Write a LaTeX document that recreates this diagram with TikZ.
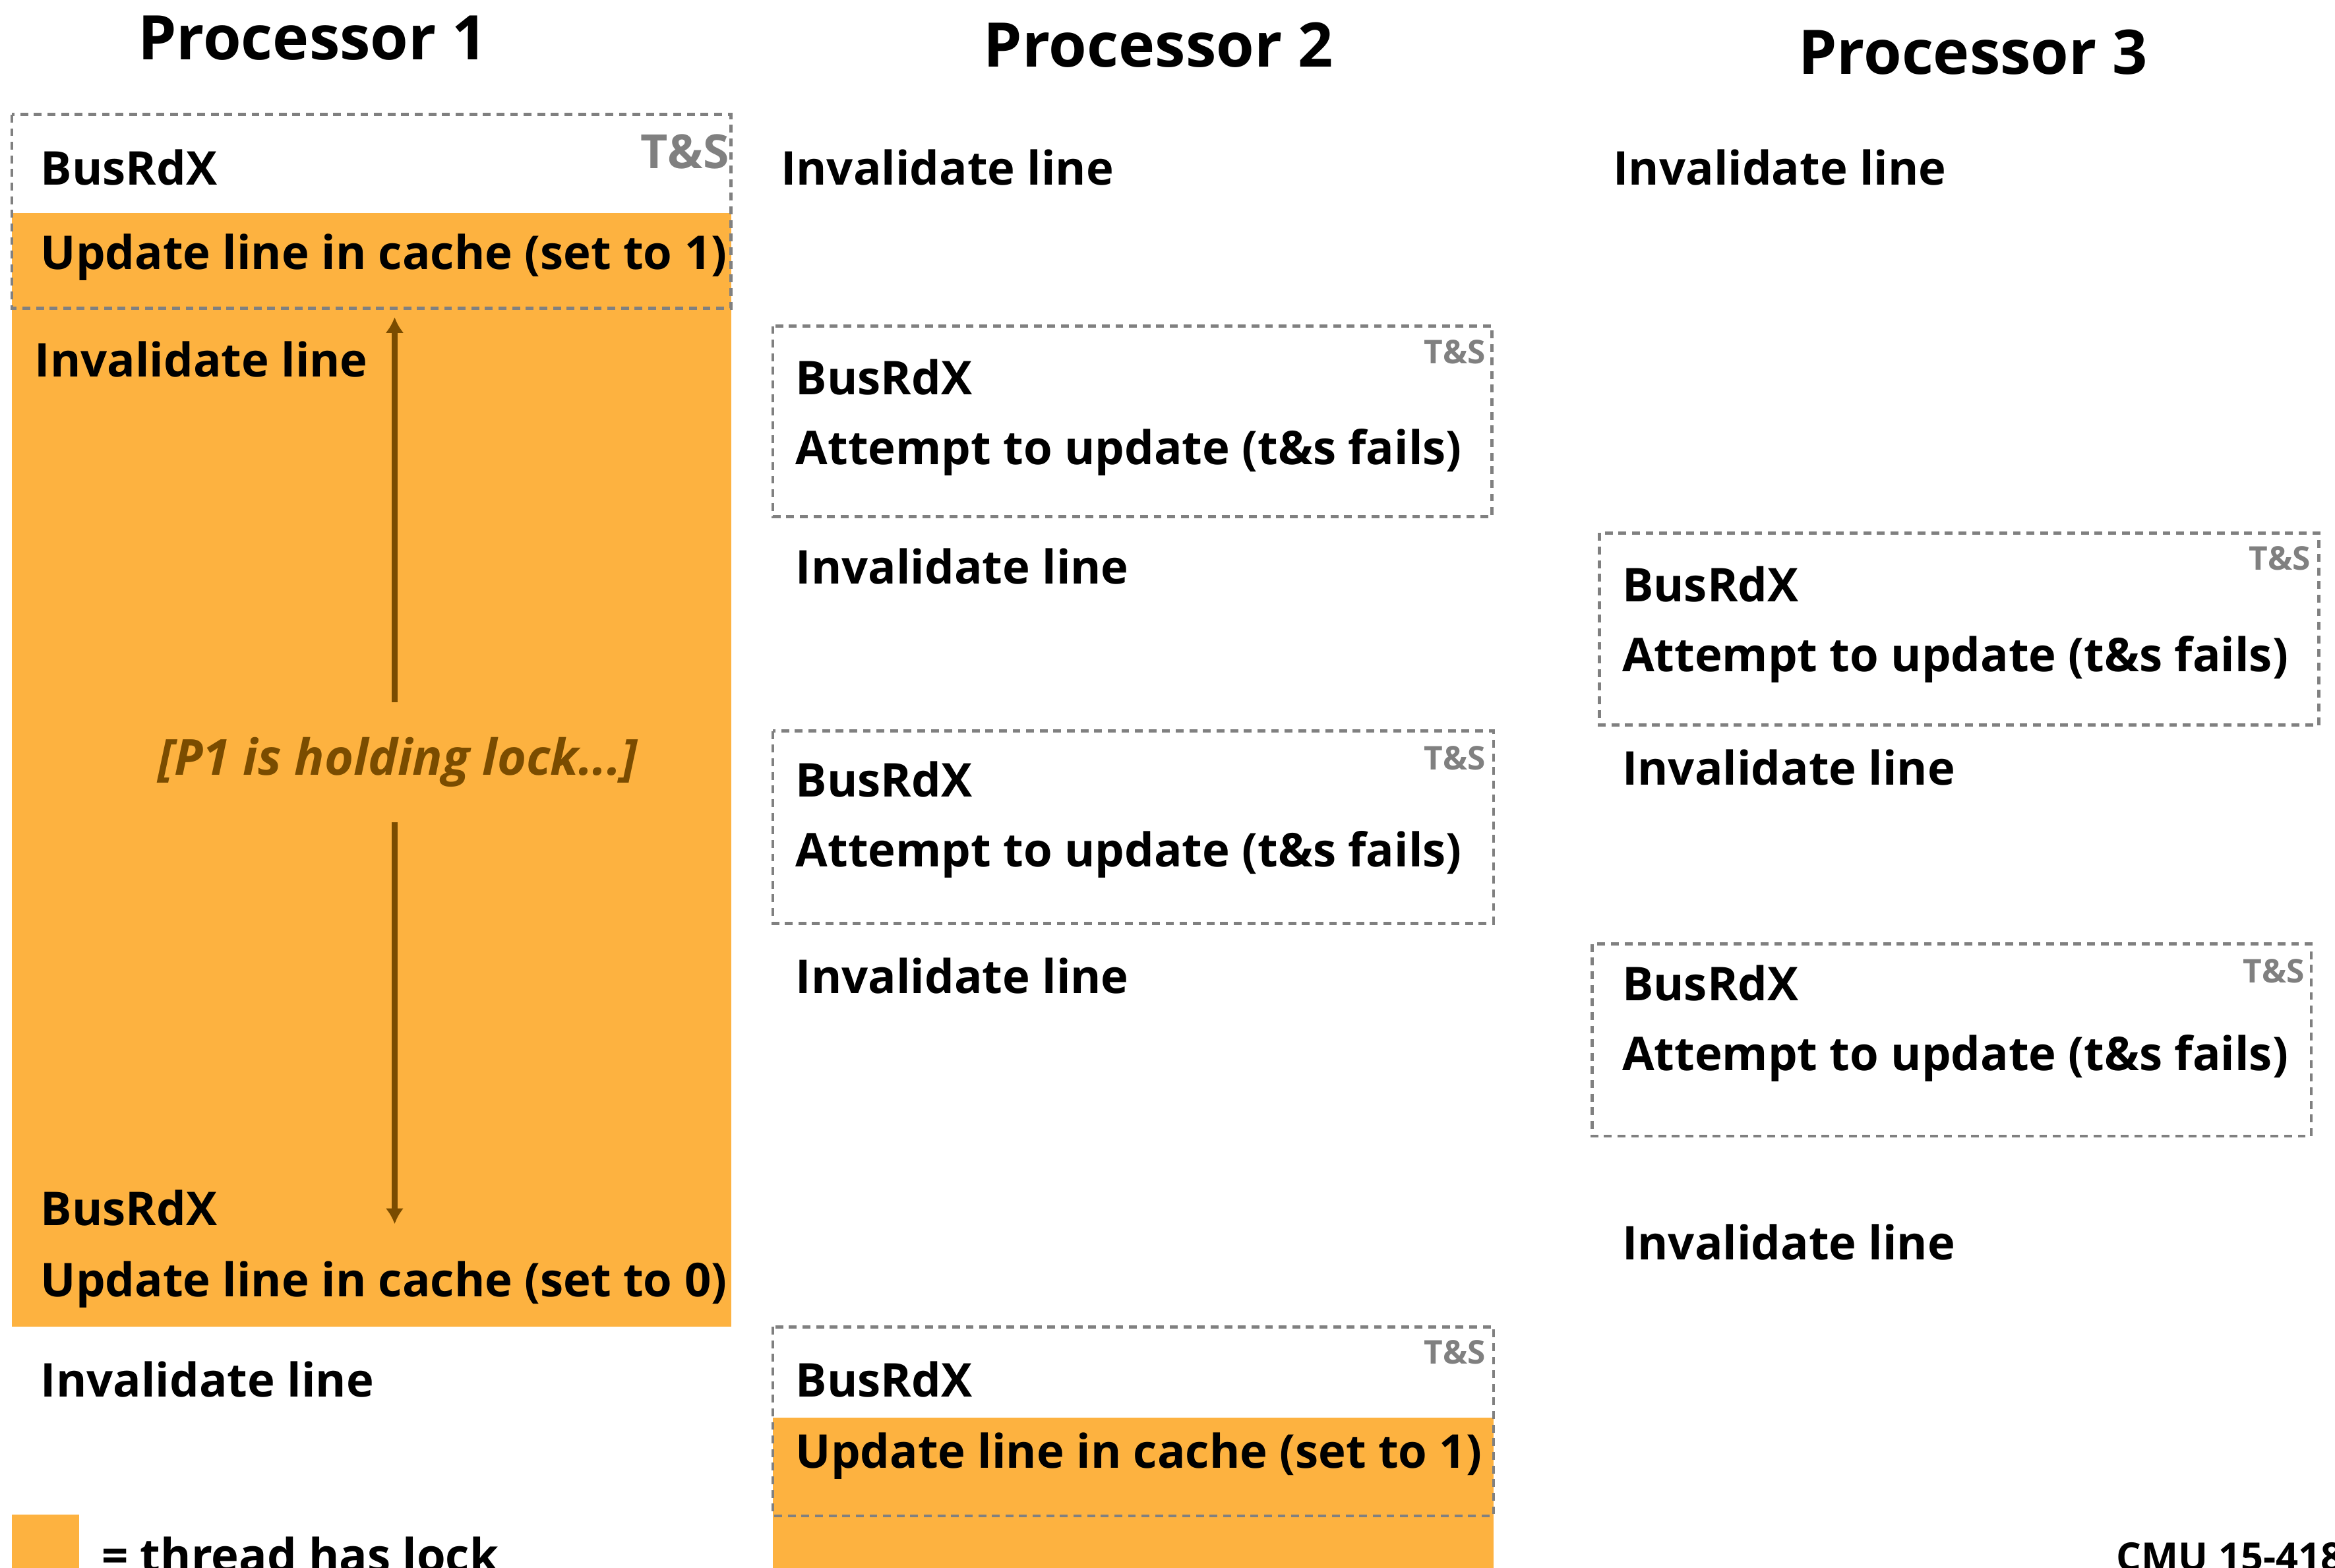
\documentclass[tikz,border=0pt]{standalone}
\usepackage{fontspec}
\setmainfont{Open Sans}
\usetikzlibrary{positioning,arrows.meta}

\definecolor{lockorange}{RGB}{253,178,64}
\definecolor{lockbrown}{RGB}{122,76,0}
\definecolor{tsgray}{RGB}{128,128,128}

\begin{document}
\begin{tikzpicture}[x=0.02cm, y=-0.02cm, >={Latex[length=6pt,width=7pt]},
  txt/.style={anchor=base west, inner sep=0pt, font=\bfseries\fontsize{17.8}{20}\selectfont},
  proc/.style={anchor=base, inner sep=0pt, font=\bfseries\fontsize{23.5}{28}\selectfont},
  tslbl/.style={anchor=base east, inner sep=0pt, text=tsgray, font=\bfseries\fontsize{12.5}{14}\selectfont},
  tsbox/.style={draw=tsgray, line width=1.2pt, dash pattern=on 3pt off 2.2pt},
  lockfill/.style={fill=lockorange, draw=none},
  holdarrow/.style={->, draw=lockbrown, line width=2.3pt},
]
  \useasboundingbox (0,0) rectangle (1568,1053);

  % --- lock held (orange) ---
  \fill[lockfill] (8,143) rectangle (491,891);
  \fill[lockfill] (519,952) rectangle (1003,1060);

  % --- test&set boxes ---
  \draw[tsbox] (8,77) rectangle (491,207);
  \draw[tsbox] (519,219) rectangle (1002,347);
  \draw[tsbox] (519,491) rectangle (1003,620);
  \draw[tsbox] (519,891) rectangle (1003,1018);
  \draw[tsbox] (1074,358) rectangle (1557,487);
  \draw[tsbox] (1069,634) rectangle (1552,763);

  % titles
  \node[proc] (p1) at (210,40) {Processor 1};
  \node[proc] (p2) at (778,45) {Processor 2};
  \node[proc] (p3) at (1325,50) {Processor 3};

  % --- processor 1 ---
  \node[tslbl, font=\bfseries\fontsize{18}{20}\selectfont] (ts1) at (490,113) {T\&S};
  \node[txt] (p1rdx) at (27,124) {BusRdX};
  \node[txt] (p1set) at (27,181) {Update line in cache (set to 1)};
  \node[txt] (p1inv) at (23,253) {Invalidate line};
  \node[txt] (p1rdxb) at (27,823) {BusRdX};
  \node[txt] (p1rel) at (27,871) {Update line in cache (set to 0)};
  \node[txt] (p1invb) at (27,938) {Invalidate line};

  % holding the lock
  \node[inner sep=0pt, minimum height=1.6cm, text=lockbrown,
        font=\bfseries\itshape\fontsize{19}{21}\selectfont] (hold) at (267,512) {[P1 is holding lock...]};
  \coordinate (holdtop) at (265,213);
  \coordinate (holdbot) at (265,822);
  \draw[holdarrow] (hold.north -| holdtop) -- (holdtop);
  \draw[holdarrow] (hold.south -| holdbot) -- (holdbot);

  % --- processor 2 ---
  \node[txt] (p2inv) at (524,124) {Invalidate line};
  \node[tslbl] (ts2a) at (998,244) {T\&S};
  \node[txt] (p2rdx) at (534,265) {BusRdX};
  \node[txt] (p2try) at (534,312) {Attempt to update (t\&s fails)};
  \node[txt] (p2invb) at (534,392) {Invalidate line};
  \node[tslbl] (ts2b) at (998,517) {T\&S};
  \node[txt] (p2rdxb) at (534,535) {BusRdX};
  \node[txt] (p2tryb) at (534,582) {Attempt to update (t\&s fails)};
  \node[txt] (p2invc) at (534,667) {Invalidate line};
  \node[tslbl] (ts2c) at (998,916) {T\&S};
  \node[txt] (p2rdxc) at (534,938) {BusRdX};
  \node[txt] (p2set) at (534,986) {Update line in cache (set to 1)};

  % --- processor 3 ---
  \node[txt] (p3inv) at (1083,124) {Invalidate line};
  \node[tslbl] (ts3a) at (1552,383) {T\&S};
  \node[txt] (p3rdx) at (1089,404) {BusRdX};
  \node[txt] (p3try) at (1089,451) {Attempt to update (t\&s fails)};
  \node[txt] (p3invb) at (1089,527) {Invalidate line};
  \node[tslbl] (ts3b) at (1548,660) {T\&S};
  \node[txt] (p3rdxb) at (1089,672) {BusRdX};
  \node[txt] (p3tryb) at (1089,719) {Attempt to update (t\&s fails)};
  \node[txt] (p3invc) at (1089,846) {Invalidate line};

  % legend + footer
  \fill[lockfill] (8,1017) rectangle (53,1060);
  \node[txt] (legtxt) at (68,1056) {= thread has lock};
  \node[txt, font=\bfseries\fontsize{15}{17}\selectfont] (footer) at (1421,1055) {CMU 15-418};
\end{tikzpicture}
\end{document}
